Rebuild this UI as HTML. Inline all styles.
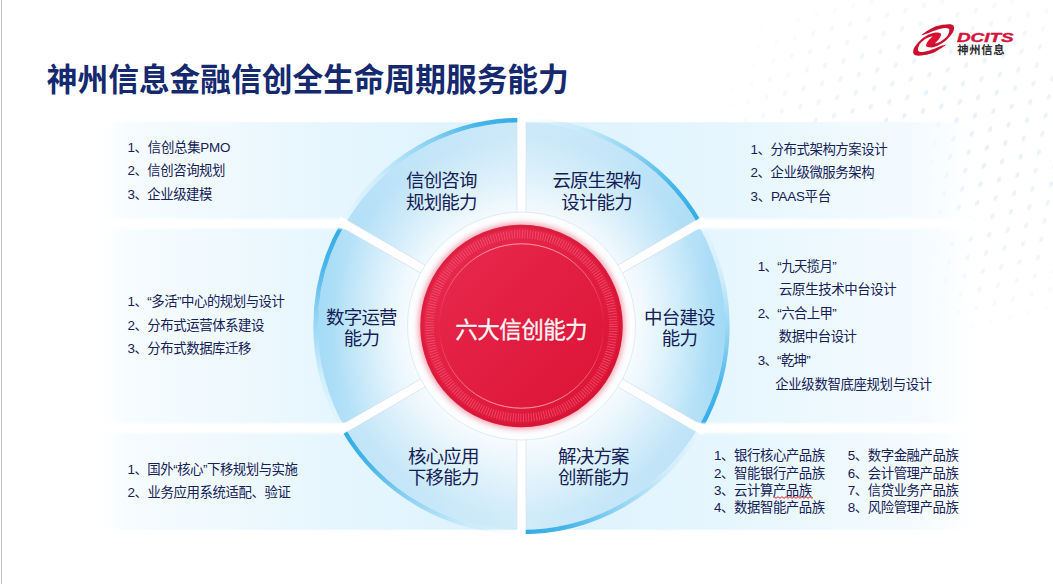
<!DOCTYPE html>
<html lang="zh-CN">
<head>
<meta charset="utf-8">
<title>神州信息金融信创全生命周期服务能力</title>
<style>
html,body{margin:0;padding:0;background:#fff;}
body{width:1053px;height:584px;overflow:hidden;position:relative;font-family:"Liberation Sans",sans-serif;}
#slide{position:absolute;left:0;top:0;width:1053px;height:584px;overflow:hidden;}
svg.bg,svg.fg{position:absolute;left:0;top:0;display:block;}
svg.fg text{font-family:"Liberation Sans","Noto Sans CJK SC",sans-serif;}
.tl{position:absolute;white-space:nowrap;line-height:1.2;color:transparent;overflow:hidden;font-family:"Liberation Sans",sans-serif;}
</style>
</head>
<body>
<div id="slide">

<svg class="bg" width="1053" height="584" viewBox="0 0 1053 584">
<defs>
<linearGradient id="bandL" x1="0" y1="0" x2="1" y2="0"><stop offset="0" stop-color="#f8fdff" stop-opacity="0"/><stop offset="0.065" stop-color="#f6fcff"/><stop offset="0.3" stop-color="#eff9fe"/><stop offset="0.55" stop-color="#e6f6fe"/><stop offset="1" stop-color="#dcf2fd"/></linearGradient>
<linearGradient id="bandR" x1="0" y1="0" x2="1" y2="0"><stop offset="0" stop-color="#dcf2fd"/><stop offset="0.44" stop-color="#e6f6fe"/><stop offset="0.68" stop-color="#eef9fe"/><stop offset="0.88" stop-color="#f5fbff"/><stop offset="1" stop-color="#f9fdff" stop-opacity="0"/></linearGradient>
<radialGradient id="ringhi" gradientUnits="userSpaceOnUse" cx="521.5" cy="326.0" r="203.75"><stop offset="0.55" stop-color="#fff" stop-opacity="0.82"/><stop offset="0.66" stop-color="#fff" stop-opacity="0.56"/><stop offset="0.78" stop-color="#fff" stop-opacity="0.28"/><stop offset="0.93" stop-color="#fff" stop-opacity="0"/></radialGradient>
<filter id="soft" x="-5%" y="-300%" width="110%" height="700%"><feGaussianBlur stdDeviation="0.9"/></filter>
<radialGradient id="glow" gradientUnits="userSpaceOnUse" cx="521.5" cy="326.0" r="110.2"><stop offset="0.9093" stop-color="#f5a9b8" stop-opacity="1"/><stop offset="0.9410" stop-color="#f9ccd5" stop-opacity="0.85"/><stop offset="0.9637" stop-color="#fce3e8" stop-opacity="0.5"/><stop offset="1" stop-color="#fff" stop-opacity="0"/></radialGradient>
<linearGradient id="thin" gradientUnits="userSpaceOnUse" x1="0" y1="244.0" x2="0" y2="408.0"><stop offset="0" stop-color="#fdb5c2" stop-opacity="0.95"/><stop offset="0.3" stop-color="#fdb5c2" stop-opacity="0.25"/><stop offset="0.5" stop-color="#fdb5c2" stop-opacity="0"/><stop offset="0.7" stop-color="#fdb5c2" stop-opacity="0.25"/><stop offset="1" stop-color="#fdb5c2" stop-opacity="0.95"/></linearGradient>
<linearGradient id="red" gradientUnits="userSpaceOnUse" x1="446.5" y1="251.0" x2="596.5" y2="401.0"><stop offset="0" stop-color="#e6284c"/><stop offset="0.5" stop-color="#e21e42"/><stop offset="1" stop-color="#dd1537"/></linearGradient>
<linearGradient id="ag0" gradientUnits="userSpaceOnUse" x1="343.1" y1="223.0" x2="521.5" y2="120.0"><stop offset="0" stop-color="#3ab0e8" stop-opacity="0"/><stop offset="0.25" stop-color="#3ab0e8" stop-opacity="0.12"/><stop offset="0.55" stop-color="#3ab0e8" stop-opacity="0.5"/><stop offset="0.8" stop-color="#36aee7" stop-opacity="0.9"/><stop offset="1" stop-color="#30abe5" stop-opacity="1"/></linearGradient><linearGradient id="ag1" gradientUnits="userSpaceOnUse" x1="521.5" y1="120.0" x2="699.9" y2="223.0"><stop offset="0" stop-color="#3ab0e8" stop-opacity="0"/><stop offset="0.25" stop-color="#3ab0e8" stop-opacity="0.12"/><stop offset="0.55" stop-color="#3ab0e8" stop-opacity="0.5"/><stop offset="0.8" stop-color="#36aee7" stop-opacity="0.9"/><stop offset="1" stop-color="#30abe5" stop-opacity="1"/></linearGradient><linearGradient id="ag2" gradientUnits="userSpaceOnUse" x1="699.9" y1="223.0" x2="699.9" y2="429.0"><stop offset="0" stop-color="#3ab0e8" stop-opacity="0"/><stop offset="0.25" stop-color="#3ab0e8" stop-opacity="0.12"/><stop offset="0.55" stop-color="#3ab0e8" stop-opacity="0.5"/><stop offset="0.8" stop-color="#36aee7" stop-opacity="0.9"/><stop offset="1" stop-color="#30abe5" stop-opacity="1"/></linearGradient><linearGradient id="ag3" gradientUnits="userSpaceOnUse" x1="699.9" y1="429.0" x2="521.5" y2="532.0"><stop offset="0" stop-color="#3ab0e8" stop-opacity="0"/><stop offset="0.25" stop-color="#3ab0e8" stop-opacity="0.12"/><stop offset="0.55" stop-color="#3ab0e8" stop-opacity="0.5"/><stop offset="0.8" stop-color="#36aee7" stop-opacity="0.9"/><stop offset="1" stop-color="#30abe5" stop-opacity="1"/></linearGradient><linearGradient id="ag4" gradientUnits="userSpaceOnUse" x1="521.5" y1="532.0" x2="343.1" y2="429.0"><stop offset="0" stop-color="#3ab0e8" stop-opacity="0"/><stop offset="0.25" stop-color="#3ab0e8" stop-opacity="0.12"/><stop offset="0.55" stop-color="#3ab0e8" stop-opacity="0.5"/><stop offset="0.8" stop-color="#36aee7" stop-opacity="0.9"/><stop offset="1" stop-color="#30abe5" stop-opacity="1"/></linearGradient><linearGradient id="ag5" gradientUnits="userSpaceOnUse" x1="343.1" y1="429.0" x2="343.1" y2="223.0"><stop offset="0" stop-color="#3ab0e8" stop-opacity="0"/><stop offset="0.25" stop-color="#3ab0e8" stop-opacity="0.12"/><stop offset="0.55" stop-color="#3ab0e8" stop-opacity="0.5"/><stop offset="0.8" stop-color="#36aee7" stop-opacity="0.9"/><stop offset="1" stop-color="#30abe5" stop-opacity="1"/></linearGradient><linearGradient id="sf0" gradientUnits="userSpaceOnUse" x1="350" y1="228" x2="512" y2="132"><stop offset="0" stop-color="#b2dff7"/><stop offset="0.5" stop-color="#c2e5f8"/><stop offset="1" stop-color="#cde9f9"/></linearGradient><linearGradient id="sf1" gradientUnits="userSpaceOnUse" x1="693" y1="228" x2="531" y2="132"><stop offset="0" stop-color="#aeddf6"/><stop offset="0.5" stop-color="#c2e5f8"/><stop offset="1" stop-color="#cde9f9"/></linearGradient><linearGradient id="sf2" gradientUnits="userSpaceOnUse" x1="726" y1="326" x2="636" y2="326"><stop offset="0" stop-color="#a2d9f6"/><stop offset="0.25" stop-color="#b0dff7"/><stop offset="0.6" stop-color="#c0e6f9"/><stop offset="1" stop-color="#d2edfc"/></linearGradient><linearGradient id="sf3" gradientUnits="userSpaceOnUse" x1="668" y1="492" x2="560" y2="430"><stop offset="0" stop-color="#bde2f7"/><stop offset="0.5" stop-color="#c9e8f9"/><stop offset="1" stop-color="#d4edfa"/></linearGradient><linearGradient id="sf4" gradientUnits="userSpaceOnUse" x1="375" y1="492" x2="483" y2="430"><stop offset="0" stop-color="#c0e4f8"/><stop offset="0.5" stop-color="#cbe9f9"/><stop offset="1" stop-color="#d4edfa"/></linearGradient><linearGradient id="sf5" gradientUnits="userSpaceOnUse" x1="317" y1="326" x2="408" y2="326"><stop offset="0" stop-color="#a4dbf7"/><stop offset="0.25" stop-color="#b0dff7"/><stop offset="0.6" stop-color="#bfe5f9"/><stop offset="1" stop-color="#d0ecfc"/></linearGradient>
<pattern id="dots" width="19" height="17" patternUnits="userSpaceOnUse" patternTransform="rotate(-14) skewX(-24)"><ellipse cx="9" cy="8" rx="2.1" ry="2.6" fill="#dfecf8"/></pattern>
<radialGradient id="dotmask" cx="0.75" cy="0.45" r="0.6"><stop offset="0" stop-color="#fff" stop-opacity="0.85"/><stop offset="0.6" stop-color="#fff" stop-opacity="0.5"/><stop offset="1" stop-color="#fff" stop-opacity="0"/></radialGradient>
<mask id="dm"><rect x="640" y="0" width="413" height="330" fill="url(#dotmask)"/></mask>
</defs>
<rect width="1053" height="584" fill="#fff"/>
<rect x="640" y="0" width="413" height="330" fill="url(#dots)" mask="url(#dm)"/>
<rect x="1" y="0" width="1" height="584" fill="#c6c6c6"/>
<rect x="100" y="122.25" width="421.5" height="407.5" fill="url(#bandL)"/>
<rect x="521.5" y="122.25" width="458.5" height="407.5" fill="url(#bandR)"/>
<path d="M345.05 224.12 A203.75 203.75 0 0 1 521.50 122.25 L521.50 212.00 A114.00 114.00 0 0 0 422.77 269.00 Z" fill="url(#sf0)"/><path d="M521.50 122.25 A203.75 203.75 0 0 1 697.95 224.12 L620.23 269.00 A114.00 114.00 0 0 0 521.50 212.00 Z" fill="url(#sf1)"/><path d="M697.95 224.12 A203.75 203.75 0 0 1 697.95 427.88 L620.23 383.00 A114.00 114.00 0 0 0 620.23 269.00 Z" fill="url(#sf2)"/><path d="M697.95 427.88 A203.75 203.75 0 0 1 521.50 529.75 L521.50 440.00 A114.00 114.00 0 0 0 620.23 383.00 Z" fill="url(#sf3)"/><path d="M521.50 529.75 A203.75 203.75 0 0 1 345.05 427.88 L422.77 383.00 A114.00 114.00 0 0 0 521.50 440.00 Z" fill="url(#sf4)"/><path d="M345.05 427.88 A203.75 203.75 0 0 1 345.05 224.12 L422.77 269.00 A114.00 114.00 0 0 0 422.77 383.00 Z" fill="url(#sf5)"/>
<circle cx="521.5" cy="326.0" r="203.75" fill="url(#ringhi)"/>
<path d="M343.12 223.01 A205.97 205.97 0 0 1 521.50 120.03" fill="none" stroke="url(#ag0)" stroke-width="4.45"/><path d="M521.50 120.03 A205.97 205.97 0 0 1 699.88 223.01" fill="none" stroke="url(#ag1)" stroke-width="4.45"/><path d="M699.88 223.01 A205.97 205.97 0 0 1 699.88 428.99" fill="none" stroke="url(#ag2)" stroke-width="4.45"/><path d="M699.88 428.99 A205.97 205.97 0 0 1 521.50 531.98" fill="none" stroke="url(#ag3)" stroke-width="4.45"/><path d="M521.50 531.98 A205.97 205.97 0 0 1 343.12 428.99" fill="none" stroke="url(#ag4)" stroke-width="4.45"/><path d="M343.12 428.99 A205.97 205.97 0 0 1 343.12 223.01" fill="none" stroke="url(#ag5)" stroke-width="4.45"/>
<g stroke="#d3e0ea" stroke-width="9.700000000000001"><line x1="521.50" y1="123.25" x2="521.50" y2="528.75"/><line x1="697.09" y1="224.62" x2="345.91" y2="427.38"/><line x1="345.91" y1="224.62" x2="697.09" y2="427.38"/></g>
<g stroke="#fff" stroke-width="8.4"><line x1="521.50" y1="114.80" x2="521.50" y2="537.20"/><line x1="704.40" y1="220.40" x2="338.60" y2="431.60"/><line x1="338.60" y1="220.40" x2="704.40" y2="431.60"/><line x1="347.65" y1="225.62" x2="340.18" y2="223.60"/><line x1="347.65" y1="426.38" x2="340.18" y2="428.10"/><line x1="695.35" y1="225.62" x2="702.82" y2="223.60"/><line x1="695.35" y1="426.38" x2="702.82" y2="428.10"/></g>
<g stroke="#fff" stroke-width="9.6" filter="url(#soft)"><line x1="344.18" y1="223.60" x2="95.00" y2="223.60"/><line x1="344.18" y1="428.10" x2="95.00" y2="428.10"/><line x1="698.82" y1="223.60" x2="985.00" y2="223.60"/><line x1="698.82" y1="428.10" x2="985.00" y2="428.10"/></g>
<circle cx="521.5" cy="326.0" r="114.0" fill="#fbfdff" stroke="#dbe6ee" stroke-width="0.8"/>
<circle cx="521.5" cy="326.0" r="110.2" fill="url(#glow)"/>
<circle cx="521.5" cy="326.0" r="101.2" fill="url(#red)"/>
<circle cx="521.5" cy="326.0" r="99.60000000000001" fill="none" stroke="#c9142f" stroke-width="3.2" opacity="0.35"/>
<circle cx="521.5" cy="326.0" r="91.8" fill="none" stroke="#f7708a" stroke-width="8.4" stroke-dasharray="0.95 1.67" opacity="0.55"/>
<circle cx="521.5" cy="326.0" r="82.2" fill="none" stroke="url(#thin)" stroke-width="0.9"/>
<!-- logo swirl -->
<g transform="translate(933.60 39.94)" fill="#c9112f"><path d="M-7.19 6.26C-6.71 6.45 -5.40 7.24 -4.32 7.41C-3.24 7.58 -2.25 7.61 -0.72 7.27C0.82 6.92 2.93 6.27 4.89 5.32C6.86 4.38 9.16 3.09 11.08 1.58C13.00 0.07 15.01 -2.17 16.40 -3.74C17.79 -5.31 18.75 -6.51 19.42 -7.84C20.10 -9.17 20.43 -10.60 20.43 -11.73C20.43 -12.85 20.23 -13.93 19.42 -14.60C18.62 -15.28 17.39 -15.67 15.61 -15.76C13.84 -15.84 11.35 -15.60 8.78 -15.11C6.20 -14.62 2.78 -13.88 0.14 -12.81C-2.49 -11.73 -4.89 -10.02 -7.05 -8.63C-9.21 -7.24 -11.85 -5.16 -12.81 -4.46C-12.09 -4.65 -10.29 -4.98 -8.49 -5.61C-6.69 -6.25 -4.29 -7.41 -2.01 -8.27C0.26 -9.14 3.02 -10.18 5.18 -10.79C7.34 -11.40 9.35 -11.83 10.94 -11.94C12.52 -12.05 13.88 -11.88 14.68 -11.44C15.47 -11.00 15.73 -10.31 15.68 -9.28C15.64 -8.25 14.96 -6.40 14.39 -5.25C13.81 -4.10 13.47 -3.51 12.23 -2.37C11.00 -1.24 8.81 0.62 6.98 1.58C5.14 2.54 2.39 3.65 1.22 3.38C0.06 3.12 0.20 0.56 0.00 0.00Z"/><path d="M7.19 -6.26C6.71 -6.45 5.40 -7.24 4.32 -7.41C3.24 -7.58 2.25 -7.61 0.72 -7.27C-0.82 -6.92 -2.93 -6.27 -4.89 -5.32C-6.86 -4.38 -9.16 -3.09 -11.08 -1.58C-13.00 -0.07 -15.01 2.17 -16.40 3.74C-17.79 5.31 -18.75 6.51 -19.42 7.84C-20.10 9.17 -20.43 10.60 -20.43 11.73C-20.43 12.85 -20.23 13.93 -19.42 14.60C-18.62 15.28 -17.39 15.67 -15.61 15.76C-13.84 15.84 -11.35 15.60 -8.78 15.11C-6.20 14.62 -2.78 13.88 -0.14 12.81C2.49 11.73 4.89 10.02 7.05 8.63C9.21 7.24 11.85 5.16 12.81 4.46C12.09 4.65 10.29 4.98 8.49 5.61C6.69 6.25 4.29 7.41 2.01 8.27C-0.26 9.14 -3.02 10.18 -5.18 10.79C-7.34 11.40 -9.35 11.83 -10.94 11.94C-12.52 12.05 -13.88 11.88 -14.68 11.44C-15.47 11.00 -15.73 10.31 -15.68 9.28C-15.64 8.25 -14.96 6.40 -14.39 5.25C-13.81 4.10 -13.47 3.51 -12.23 2.37C-11.00 1.24 -8.81 -0.62 -6.98 -1.58C-5.14 -2.54 -2.39 -3.65 -1.22 -3.38C-0.06 -3.12 -0.20 -0.56 -0.00 -0.00Z"/><ellipse cx="0" cy="0" rx="9.5" ry="3.3" transform="rotate(-41)" fill="#dc0f30"/></g>
<!-- spell-check squiggle -->
<path d="M773 497.5 q1 -1.6 2 0 t2 0 t2 0 t2 0 t2 0 t2 0 t2 0 t2 0 t2 0 t2 0 t2 0 t2 0 t2 0 t2 0 t2 0 t2 0 t2 0 t2 0 t2 0 t2 0" fill="none" stroke="#e62222" stroke-width="1"/>
</svg>

<svg class="fg" width="1053" height="584" viewBox="0 0 1053 584">
<text x="46.8" y="90.9" font-size="31.5" font-weight="bold" fill="#15296f" textLength="522" lengthAdjust="spacingAndGlyphs">神州信息金融信创全生命周期服务能力</text>
<g fill="#152155" font-size="13.4">
<text x="127.4" y="151.6" textLength="103">1、信创总集PMO</text>
<text x="127.4" y="175.2" textLength="98">2、信创咨询规划</text>
<text x="127.4" y="198.8" textLength="85">3、企业级建模</text>
<text x="127.4" y="306.2" textLength="157.5">1、“多活”中心的规划与设计</text>
<text x="127.4" y="329.6" textLength="137">2、分布式运营体系建设</text>
<text x="127.4" y="353.0" textLength="124">3、分布式数据库迁移</text>
<text x="127.4" y="473.6" textLength="170.5">1、国外“核心”下移规划与实施</text>
<text x="127.4" y="497.2" textLength="163.5">2、业务应用系统适配、验证</text>
<text x="750.6" y="153.8" textLength="137">1、分布式架构方案设计</text>
<text x="750.6" y="177.2" textLength="124">2、企业级微服务架构</text>
<text x="750.6" y="200.6" textLength="80.5">3、PAAS平台</text>
<text x="757.7" y="270.6" textLength="79">1、“九天揽月”</text>
<text x="779.1" y="294.2" textLength="117.5">云原生技术中台设计</text>
<text x="757.7" y="317.8" textLength="79">2、“六合上甲”</text>
<text x="778.7" y="341.4" textLength="78.3">数据中台设计</text>
<text x="757.7" y="365.0" textLength="53">3、“乾坤”</text>
<text x="775.3" y="388.6" textLength="156.8">企业级数智底座规划与设计</text>
<text x="714.1" y="460.2" textLength="111">1、银行核心产品族</text>
<text x="847.8" y="460.2" textLength="111">5、数字金融产品族</text>
<text x="714.1" y="477.6" textLength="111">2、智能银行产品族</text>
<text x="847.8" y="477.6" textLength="111">6、会计管理产品族</text>
<text x="714.1" y="495.0" textLength="98">3、云计算产品族</text>
<text x="847.8" y="495.0" textLength="111">7、信贷业务产品族</text>
<text x="714.1" y="512.4" textLength="111">4、数据智能产品族</text>
<text x="847.8" y="512.4" textLength="111">8、风险管理产品族</text>
</g>
<g fill="#152155" font-size="18.5">
<text x="406.0" y="187.2" textLength="71.5">信创咨询</text>
<text x="406.0" y="208.7" textLength="71.5">规划能力</text>
<text x="552.4" y="187.2" textLength="89.2">云原生架构</text>
<text x="561.3" y="208.7" textLength="71.5">设计能力</text>
<text x="326.1" y="324.3" textLength="71.5">数字运营</text>
<text x="343.8" y="345.4" textLength="36.1">能力</text>
<text x="644.1" y="324.1" textLength="71.5">中台建设</text>
<text x="661.8" y="345.4" textLength="36.1">能力</text>
<text x="407.9" y="463.2" textLength="71.5">核心应用</text>
<text x="407.9" y="483.6" textLength="71.5">下移能力</text>
<text x="558.1" y="463.2" textLength="71.5">解决方案</text>
<text x="558.1" y="483.6" textLength="71.5">创新能力</text>
</g>
<text x="456.0" y="338.95" font-size="22.6" fill="#a80f2e" opacity="0.35" textLength="132.5">六大信创能力</text>
<text x="455.2" y="338.15" font-size="22.6" fill="#fff3f5" stroke="#fff3f5" stroke-width="0.3" stroke-linejoin="round" textLength="132.5">六大信创能力</text>
<text x="957.2" y="54.4" font-size="11.3" font-weight="bold" fill="#2a2a2a" textLength="47.3">神州信息</text>
<text x="957" y="41.7" font-size="12.6" font-weight="bold" font-style="italic" fill="#d4143c" stroke="#d4143c" stroke-width="0.4" stroke-linejoin="round" textLength="56.5" lengthAdjust="spacingAndGlyphs">DCITS</text>
</svg>
<div id="textlayer">
<div class="tl" style="left:47.6px;top:62.2px;font-size:30.7px;width:523.9px;">神州信息金融信创全生命周期服务能力</div>
<div class="tl" style="left:126.8px;top:139.9px;font-size:13.1px;width:104.5px;">1、信创总集PMO</div>
<div class="tl" style="left:126.8px;top:163.5px;font-size:13.1px;width:100.8px;">2、信创咨询规划</div>
<div class="tl" style="left:126.8px;top:187.1px;font-size:13.1px;width:87.8px;">3、企业级建模</div>
<div class="tl" style="left:126.8px;top:294.5px;font-size:13.1px;width:160.5px;">1、“多活”中心的规划与设计</div>
<div class="tl" style="left:126.8px;top:317.9px;font-size:13.1px;width:140.1px;">2、分布式运营体系建设</div>
<div class="tl" style="left:126.8px;top:341.3px;font-size:13.1px;width:127.0px;">3、分布式数据库迁移</div>
<div class="tl" style="left:126.8px;top:461.9px;font-size:13.1px;width:173.6px;">1、国外“核心”下移规划与实施</div>
<div class="tl" style="left:126.8px;top:485.5px;font-size:13.1px;width:166.2px;">2、业务应用系统适配、验证</div>
<div class="tl" style="left:750.0px;top:142.1px;font-size:13.1px;width:140.1px;">1、分布式架构方案设计</div>
<div class="tl" style="left:750.0px;top:165.5px;font-size:13.1px;width:127.0px;">2、企业级微服务架构</div>
<div class="tl" style="left:750.0px;top:188.9px;font-size:13.1px;width:83.4px;">3、PAAS平台</div>
<div class="tl" style="left:757.1px;top:258.9px;font-size:13.1px;width:82.0px;">1、“九天揽月”</div>
<div class="tl" style="left:779.4px;top:282.5px;font-size:13.1px;width:119.7px;">云原生技术中台设计</div>
<div class="tl" style="left:757.1px;top:306.1px;font-size:13.1px;width:82.0px;">2、“六合上甲”</div>
<div class="tl" style="left:779.0px;top:329.7px;font-size:13.1px;width:80.5px;">数据中台设计</div>
<div class="tl" style="left:757.1px;top:353.3px;font-size:13.1px;width:55.8px;">3、“乾坤”</div>
<div class="tl" style="left:775.6px;top:376.9px;font-size:13.1px;width:159.0px;">企业级数智底座规划与设计</div>
<div class="tl" style="left:713.5px;top:448.5px;font-size:13.1px;width:113.9px;">1、银行核心产品族</div>
<div class="tl" style="left:847.2px;top:448.5px;font-size:13.1px;width:113.9px;">5、数字金融产品族</div>
<div class="tl" style="left:713.5px;top:465.9px;font-size:13.1px;width:113.9px;">2、智能银行产品族</div>
<div class="tl" style="left:847.2px;top:465.9px;font-size:13.1px;width:113.9px;">6、会计管理产品族</div>
<div class="tl" style="left:713.5px;top:483.3px;font-size:13.1px;width:100.8px;">3、云计算产品族</div>
<div class="tl" style="left:847.2px;top:483.3px;font-size:13.1px;width:113.9px;">7、信贷业务产品族</div>
<div class="tl" style="left:713.5px;top:500.7px;font-size:13.1px;width:113.9px;">4、数据智能产品族</div>
<div class="tl" style="left:847.2px;top:500.7px;font-size:13.1px;width:113.9px;">8、风险管理产品族</div>
<div class="tl" style="left:406.5px;top:171.0px;font-size:17.7px;width:72.8px;">信创咨询</div>
<div class="tl" style="left:406.5px;top:192.5px;font-size:17.7px;width:72.8px;">规划能力</div>
<div class="tl" style="left:553.0px;top:171.0px;font-size:17.7px;width:90.5px;">云原生架构</div>
<div class="tl" style="left:561.8px;top:192.5px;font-size:17.7px;width:72.8px;">设计能力</div>
<div class="tl" style="left:326.6px;top:308.0px;font-size:17.7px;width:72.8px;">数字运营</div>
<div class="tl" style="left:344.3px;top:329.1px;font-size:17.7px;width:37.4px;">能力</div>
<div class="tl" style="left:644.6px;top:307.8px;font-size:17.7px;width:72.8px;">中台建设</div>
<div class="tl" style="left:662.3px;top:329.1px;font-size:17.7px;width:37.4px;">能力</div>
<div class="tl" style="left:408.4px;top:446.9px;font-size:17.7px;width:72.8px;">核心应用</div>
<div class="tl" style="left:408.4px;top:467.3px;font-size:17.7px;width:72.8px;">下移能力</div>
<div class="tl" style="left:558.6px;top:446.9px;font-size:17.7px;width:72.8px;">解决方案</div>
<div class="tl" style="left:558.6px;top:467.3px;font-size:17.7px;width:72.8px;">创新能力</div>
<div class="tl" style="left:455.5px;top:318.2px;font-size:22.0px;width:134.0px;">六大信创能力</div>
<div class="tl" style="left:957.4px;top:44.7px;font-size:10.7px;width:48.4px;letter-spacing:1.20px;">神州信息</div>
<div class="tl" style="left:957px;top:30px;font-size:12.4px;font-weight:bold;font-style:italic;width:60px">DCITS</div>
</div>
</div>
</body>
</html>
